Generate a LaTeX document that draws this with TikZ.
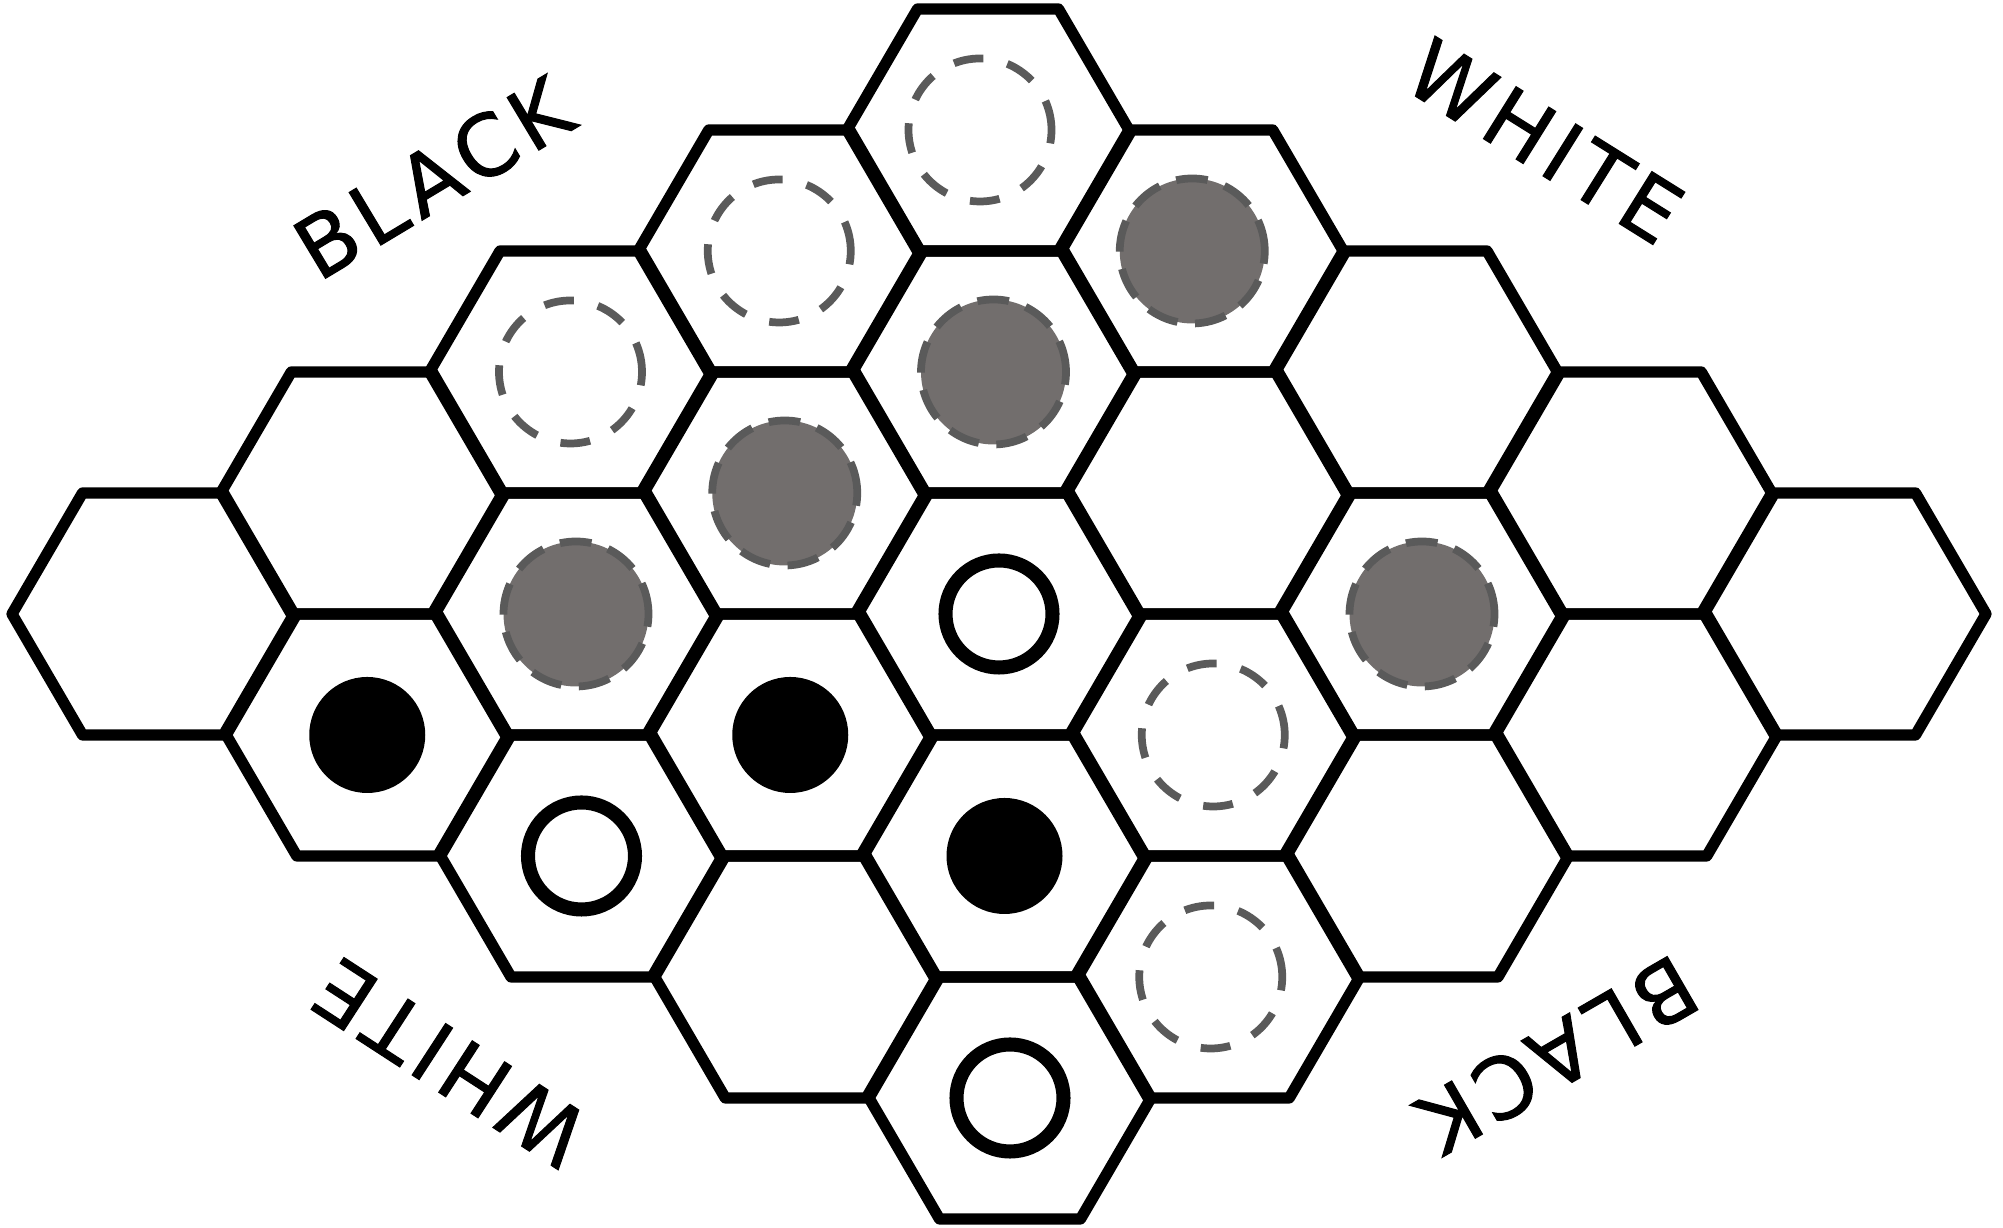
\documentclass[tikz,border=0pt]{standalone}
\usepackage{fontspec}
\newfontfamily\sidefont[LetterSpace=8,FakeBold=1.2]{DejaVu Sans}
\definecolor{stonegray}{HTML}{726E6D}
\definecolor{dashgray}{HTML}{5A5A5A}
\begin{document}
\begin{tikzpicture}[
  cell/.style={draw, line width=3.2pt, line join=round},
  spot/.style={circle, draw=dashgray, line width=2.2pt, dash pattern=on 8.5pt off 7pt, fill=white, minimum size=1.43cm, inner sep=0pt},
  shade/.style={circle, draw=dashgray, fill=stonegray, line width=2.2pt, dash pattern=on 9pt off 5pt, minimum size=1.45cm, inner sep=0pt},
  bstone/.style={circle, fill=black, minimum size=1.16cm, inner sep=0pt},
  wstone/.style={circle, draw, line width=4pt, fill=white, minimum size=1.07cm, inner sep=0pt},
  side/.style={font=\sidefont\fontsize{24}{24}\selectfont, inner sep=0pt}
]
\useasboundingbox (0,0) rectangle (20.03,12.28);

\foreach \i in {0,...,4}
  \foreach \j in {0,...,4}
    \coordinate (c\i\j) at ({9.88+0.0275*(\i+\j)+2.115*(\j-\i)},{10.98-1.21*(\i+\j)});

\foreach \i in {0,...,4}
  \foreach \j in {0,...,4}
    \draw[cell] (c\i\j) ++(1.41,0) -- ++(-0.705,1.21) -- ++(-1.41,0) -- ++(-0.705,-1.21) -- ++(0.705,-1.21) -- ++(1.41,0) -- cycle;

\node[spot, xshift=-0.08cm] (s00) at (c00) {};
\node[spot] (s10) at (c10) {};
\node[spot] (s20) at (c20) {};
\node[spot] (s23) at (c23) {};
\node[spot, xshift=-0.08cm] (s34) at (c34) {};

\node[shade, xshift=-0.1cm] (g01) at (c01) {};
\node[shade] (g11) at (c11) {};
\node[shade] (g21) at (c21) {};
\node[shade] (g31) at (c31) {};
\node[shade] (g13) at (c13) {};

\node[bstone] (b41) at (c41) {};
\node[bstone] (b32) at (c32) {};
\node[bstone] (b33) at (c33) {};

\node[wstone] (w22) at (c22) {};
\node[wstone] (w42) at (c42) {};
\node[wstone] (w44) at (c44) {};

\node[side, rotate=31] (blacktop) at (4.33,10.50) {BLACK};
\node[side, rotate=-32] (whitetop) at (15.45,10.87) {WHITE};
\node[side, rotate=147] (whitebot) at (4.50,1.65) {WHITE};
\node[side, rotate=210] (blackbot) at (15.58,1.73) {BLACK};
\end{tikzpicture}
\end{document}
